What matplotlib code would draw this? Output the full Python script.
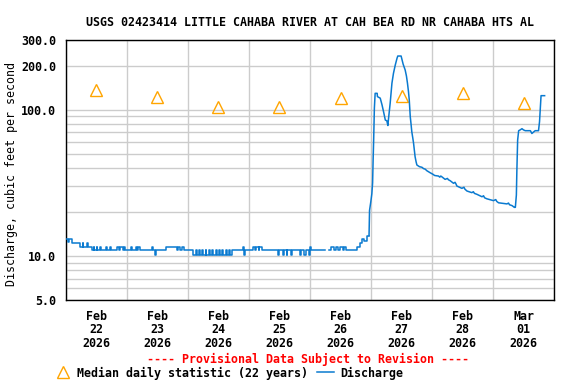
import numpy as np
import pandas as pd
import matplotlib
matplotlib.use("Agg")
import matplotlib.pyplot as plt
import matplotlib.dates as mdates

plt.rcParams['font.family'] = 'DejaVu Sans Mono'
plt.rcParams['font.weight'] = 'bold'
plt.rcParams['font.size'] = 8.4

title = "USGS 02423414 LITTLE CAHABA RIVER AT CAH BEA RD NR CAHABA HTS AL"
start = pd.Timestamp("2026-02-22")

# discharge readings, hours after Feb 22 00:00 -> cfs (nan = gap)
q_hours = [0.0, 0.8, 1.4, 2.4, 5.6, 6.6, 6.9, 8.2, 8.6, 10.2, 11.0, 11.3, 12.2, 12.4,
           13.4, 13.7, 16.0, 16.3, 17.3, 17.6, 20.1, 21.0, 21.3, 22.6, 22.9, 23.3,
           25.8, 26.1, 27.8, 28.2, 28.6, 29.2, 33.8, 34.3, 35.1, 35.4, 39.4, 43.6,
           44.2, 45.0, 45.5, 46.4, 50.2, 51.2, 51.5, 52.5, 52.8, 53.7, 54.0, 55.0,
           55.3, 56.4, 56.7, 57.6, 57.9, 59.0, 59.3, 60.3, 60.6, 61.6, 61.9, 63.0,
           63.3, 64.3, 64.6, 65.3, 69.8, 70.2, 70.5, 73.5, 74.3, 74.7, 75.8, 76.1,
           77.1, 83.6, 84.0, 85.2, 85.6, 86.8, 87.1, 88.6, 89.0, 92.1, 92.5, 93.8,
           94.3, 95.6, 95.9, 96.2, 102.0, 103.5, 104.3, 105.5, 106.3, 107.0, 107.8,
           108.8, 109.3, 110.0, 114.4, 115.5, 116.4, 117.3, 118.4, 119.2,
           119.4, 119.9, 120.3, 120.6, 120.8, 121.0, 121.3, 121.6, 122.4, 122.5, 123.6,
           124.3, 124.9, 125.6, 126.2, 126.6, 126.8, 127.5, 128.2, 128.8, 129.5,
           130.2, 130.5, 131.8, 132.6, 133.4, 133.9, 134.3, 134.7, 135.0, 135.4,
           135.7, 136.0, 136.4, 136.7, 137.0, 137.3, 137.7, 138.0, 139.0, 140.0,
           140.6, 141.3, 141.9, 143.2, 144.3, 145.0, 146.5, 147.0, 147.4, 147.8,
           149.1, 150.0, 150.4, 151.1, 152.4, 153.0, 153.4, 153.7, 155.7, 156.5,
           156.9, 157.7, 159.6, 160.2, 160.6, 161.6, 163.6, 164.2, 164.6, 165.5,
           168.1, 169.0, 169.4, 170.1, 173.4, 174.0, 174.4, 175.4, 176.3, 176.7,
           177.1, 177.3, 177.6, 178.0, 178.6, 179.3, 179.9, 180.6, 182.6, 183.2,
           183.9, 184.5, 185.8, 186.2, 186.8, 188.2]
q_cfs = [13.0, 12.4, 13.0, 12.3, 11.6, 12.3, 11.6, 12.3, 11.6, 10.9, 11.6, 10.9, 11.6, 10.9,
         11.6, 10.9, 11.6, 10.9, 11.6, 10.9, 11.6, 10.9, 11.6, 10.9, 11.6, 10.9,
         11.6, 10.9, 11.6, 10.9, 11.6, 10.9, 11.6, 10.9, 10.2, 10.9, 11.6, 10.9,
         11.6, 10.9, 11.6, 10.9, 10.2, 10.9, 10.2, 10.9, 10.2, 10.9, 10.2, 10.9,
         10.2, 10.9, 10.2, 10.9, 10.2, 10.9, 10.2, 10.9, 10.2, 10.9, 10.2, 10.9,
         10.2, 10.9, 10.2, 10.9, 11.6, 10.2, 10.9, 11.6, 10.9, 11.6, 10.9, 11.6,
         10.9, 10.2, 10.9, 10.2, 10.9, 10.2, 10.9, 10.2, 10.9, 10.2, 10.9, 10.2,
         10.9, 10.2, 11.6, 10.9, np.nan, 10.9, 11.6, 10.9, 11.6, 10.9, 11.6,
         10.9, 11.6, 10.9, 11.6, 12.3, 13.0, 12.6, 13.8, 13.8,
         20.5, 23.5, 26.6, 31.6, 45.0, 60.5, 102.8, 129.5, 129.5, 123.0, 120.0,
         108.0, 97.0, 85.0, 84.0, 78.0, 85.0, 110.6, 152.0, 177.5, 202.0,
         225.0, 233.0, 233.0, 205.0, 187.0, 170.0, 152.0, 133.0, 117.0, 89.6,
         80.0, 70.8, 64.0, 59.0, 53.0, 47.7, 44.0, 41.9, 40.8, 40.4,
         39.6, 39.2, 38.3, 37.1, 36.2, 35.5, 35.2, 34.6, 35.2, 34.8,
         33.4, 33.9, 33.2, 32.7, 31.4, 31.9, 31.0, 30.1, 29.0, 29.5,
         28.6, 27.8, 27.1, 27.5, 26.8, 26.4, 25.4, 25.8, 25.0, 24.6,
         23.9, 24.3, 23.6, 23.1, 22.7, 23.0, 22.4, 22.1, 21.5, 21.5,
         26.1, 38.7, 62.0, 71.9, 72.8, 74.2, 72.8, 71.9, 71.9, 68.8,
         70.5, 71.9, 71.9, 82.8, 124.8, 124.8]

# median daily statistic (22 years), plotted at noon
med_days = ["2026-02-22", "2026-02-23", "2026-02-24", "2026-02-25",
            "2026-02-26", "2026-02-27", "2026-02-28", "2026-03-01"]
med_cfs = [136, 122, 105, 105, 120, 124, 130, 111]

q_time = start + pd.to_timedelta(q_hours, unit="h")
med_time = pd.to_datetime(med_days) + pd.Timedelta(hours=12)
split = q_hours.index(119.2)  # low-flow part drawn as steps, storm part as a line

fig = plt.figure(figsize=(5.76, 3.84), dpi=100)
ax = fig.add_axes([0.1141, 0.2188, 0.8482, 0.6771])

grey = "#cccccc"
blue = "#0a7ad0"
ax.plot(med_time, med_cfs, linestyle="None", marker="^", markersize=8,
        markerfacecolor="none", markeredgecolor="#ffa500", markeredgewidth=1.0,
        label="Median daily statistic (22 years)", zorder=3)
ax.plot(q_time[:split + 1], q_cfs[:split + 1], color=blue, lw=1.1,
        drawstyle="steps-post", label="Discharge", zorder=4)
ax.plot(q_time[split:], q_cfs[split:], color=blue, lw=1.1, zorder=4)

ax.set_yscale("log")
ax.set_ylim(5, 300)
ax.set_yticks([5, 10, 100, 200, 300])
ax.set_yticklabels(["5.0", "10.0", "100.0", "200.0", "300.0"])
ax.set_yticks([6, 7, 8, 9, 20, 30, 40, 50, 60, 70, 80, 90], minor=True)
ax.yaxis.set_minor_formatter(matplotlib.ticker.NullFormatter())
ax.grid(True, axis="y", which="both", color=grey, lw=1.0)

ax.set_xlim(start, pd.Timestamp("2026-03-02"))
ax.xaxis.set_major_locator(mdates.HourLocator(byhour=[12]))
ax.xaxis.set_major_formatter(mdates.DateFormatter("%b\n%d\n%Y"))
ax.xaxis.set_minor_locator(mdates.DayLocator())
ax.grid(True, axis="x", which="minor", color=grey, lw=1.0)
ax.set_axisbelow(True)

ax.tick_params(which="both", length=0)
ax.tick_params(axis="x", pad=7)
ax.tick_params(axis="y", pad=7)
for lab in ax.get_xticklabels():
    lab.set_linespacing(1.05)
for s in ax.spines.values():
    s.set_linewidth(1.0)

ax.set_ylabel("Discharge, cubic feet per second")
ax.yaxis.set_label_coords(-0.098, 0.483)
fig.text(0.538, 1 - 22.5 / 384, title, ha="center", va="center")
fig.text(0.535, 1 - 359 / 384, "---- Provisional Data Subject to Revision ----",
         color="red", ha="center", va="center")

fig.legend(loc="center left", bbox_to_anchor=(0.094, 1 - 373 / 384), ncol=2,
           frameon=False, handlelength=1.45, handletextpad=0.5,
           columnspacing=0.8, borderpad=0, borderaxespad=0)

fig.savefig("out.png", dpi=100)
